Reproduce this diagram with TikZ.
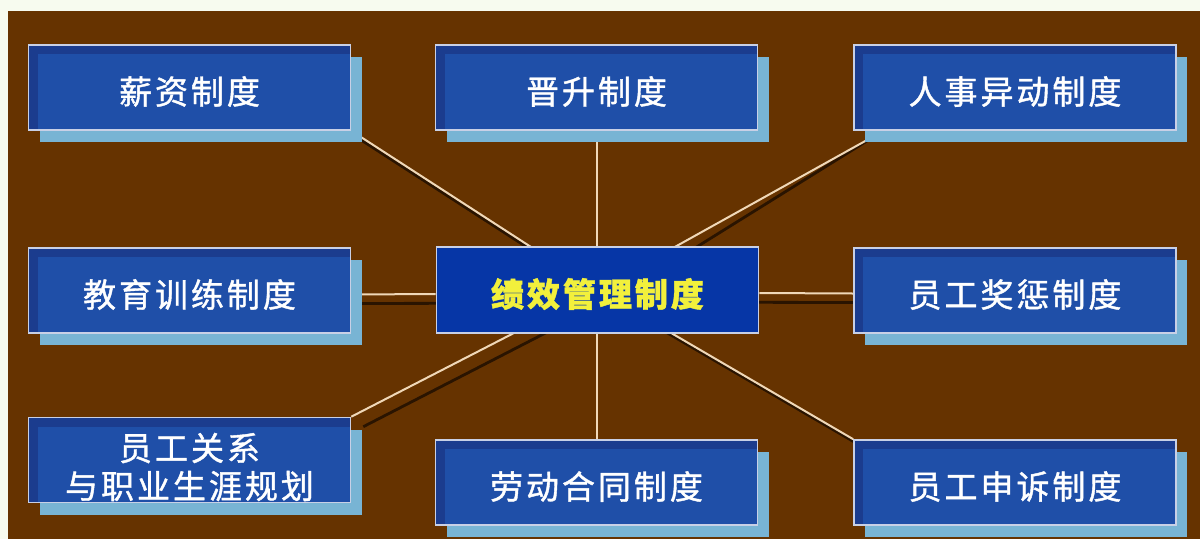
\documentclass[tikz,border=0pt]{standalone}
\usepackage{fontspec}
\newfontfamily\cjk[LetterSpace=9,FakeBold=1.2]{Noto Sans CJK SC}
\usetikzlibrary{shadows,backgrounds,calc}
\definecolor{cream}{HTML}{F7FBEF}
\definecolor{brownbg}{HTML}{663300}
\definecolor{boxouter}{HTML}{1B3C8E}
\definecolor{boxinner}{HTML}{1F4FA8}
\definecolor{boxline}{HTML}{C8D0E6}
\definecolor{shadowblue}{HTML}{78B4D4}
\definecolor{centerfill}{HTML}{0636A6}
\definecolor{titleyellow}{HTML}{F2F03C}
\definecolor{linelight}{HTML}{F0D8B8}
\definecolor{linedark}{HTML}{2A1400}
\newcommand{\lowered}[1]{\raisebox{-4pt}[\height][\depth]{#1}}
\tikzset{
  itembox/.style={draw=boxline, line width=1.6pt, fill=boxouter,
    minimum width=322pt, minimum height=85pt, inner sep=0pt,
    text=white, font=\cjk\fontsize{33}{40}\selectfont, align=center,
    general shadow={fill=shadowblue, shadow xshift=11pt, shadow yshift=-12pt},
    path picture={\fill[boxinner] ([xshift=9pt,yshift=-9pt]path picture bounding box.north west) rectangle (path picture bounding box.south east);}},
  centerbox/.style={draw=boxline, line width=1.6pt, fill=centerfill,
    minimum width=322pt, minimum height=86pt, inner sep=0pt,
    text=titleyellow, font=\cjk\bfseries\fontsize{33}{40}\selectfont},
  lightline/.style={draw=linelight, line width=2pt},
  darkline/.style={draw=linedark, line width=2.8pt}
}
\begin{document}
\begin{tikzpicture}[x=1pt, y=-1pt]
\useasboundingbox (0,0) rectangle (1200,539);
% nodes
\node[itembox] (tl) at (189.5,87.5) {\lowered{薪资制度}};
\node[itembox] (tm) at (596.5,87.5) {\lowered{晋升制度}};
\node[itembox] (tr) at (1015,87.5) {\lowered{人事异动制度}};
\node[itembox] (ml) at (189.5,290.5) {\lowered{教育训练制度}};
\node[itembox] (mr) at (1015,290.5) {\lowered{员工奖惩制度}};
\node[itembox] (bl) at (189.5,460) {\raisebox{-7pt}[\height][\depth]{员工关系}\\[-2pt]\raisebox{-7pt}[\height][\depth]{与职业生涯规划}};
\node[itembox] (bm) at (596.5,482.5) {\lowered{劳动合同制度}};
\node[itembox] (br) at (1015,482.5) {\lowered{员工申诉制度}};
\node[centerbox] (c) at (597.5,290) {\lowered{绩效管理制度}};
% background and connectors (behind boxes)
\begin{scope}[on background layer]
  \fill[cream] (0,0) rectangle (1200,539);
  \fill[brownbg] (8,11) rectangle (1200,539);
  % dark shadow lines
  \draw[darkline] ($(tl.south east)+(8,8)$) -- ($(c.center)+(8,8)$);
  \draw[darkline] ($(tr.south west)+(14,10)$) -- ($(c.center)+(14,10)$);
  \draw[darkline] ($(ml.east)+(0,13)$) -- ($(c.center)+(0,13)$);
  \draw[darkline] ($(mr.west)+(0,12)$) -- ($(c.center)+(0,12)$);
  \draw[darkline] ($(bl.north east)+(12,10)$) -- ($(c.center)+(12,10)$);
  \draw[darkline] ($(br.north west)+(10,8)$) -- ($(c.center)+(10,8)$);
  % light lines
  \draw[lightline] (tl.south east) -- (c.center);
  \draw[lightline] (tm.south) -- (tm.south |- c.north);
  \draw[lightline] ($(tr.south west)+(25,3)$) -- (c.center);
  \draw[lightline] ($(ml.east)+(0,4)$) -- ($(c.west)+(0,4)$);
  \draw[lightline] ($(mr.west)+(0,3)$) -- ($(c.east)+(0,3)$);
  \draw[lightline] (bl.north east) -- (c.center);
  \draw[lightline] (bm.north) -- (bm.north |- c.south);
  \draw[lightline] (br.north west) -- (c.center);
\end{scope}
\end{tikzpicture}
\end{document}
